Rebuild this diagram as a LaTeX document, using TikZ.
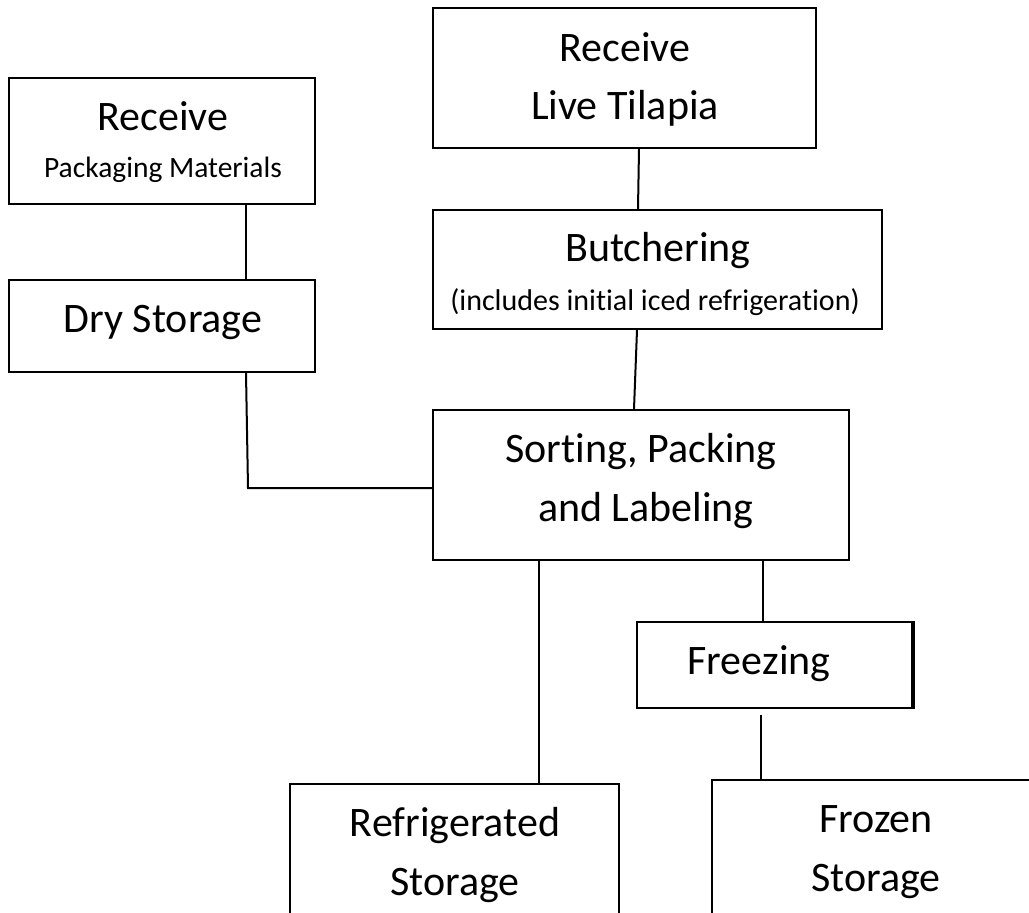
\documentclass[tikz,border=0pt]{standalone}
\usepackage{fontspec}
\setmainfont{Carlito}[Ligatures=NoCommon]
\begin{document}
\begin{tikzpicture}[x=1pt,y=-1pt,
  box/.style={draw=black, line width=2pt, rectangle, inner sep=0pt, fill=none},
  big/.style={font=\fontsize{42}{50}\selectfont, anchor=base, inner sep=0pt},
  small/.style={font=\fontsize{29.5}{34}\selectfont, anchor=base, inner sep=0pt},
  conn/.style={draw=black, line width=2pt}]
\useasboundingbox (0,0) rectangle (1029,913);
\fill[white] (0,0) rectangle (1029,913);
\clip (0,0) rectangle (1029,913);
% boxes (pixel coordinates)
\node[box, minimum width=383pt, minimum height=140pt] (tilapia) at (624.5,78) {};
\node[box, minimum width=306pt, minimum height=126pt] (pack) at (162,141) {};
\node[box, minimum width=449pt, minimum height=119pt] (butch) at (657.5,269.5) {};
\node[box, minimum width=306pt, minimum height=92pt] (dry) at (162,326) {};
\node[box, minimum width=416pt, minimum height=150pt] (sort) at (641,485) {};
\node[box, minimum width=275pt, minimum height=86pt] (freeze) at (774.5,665) {};
\node[box, minimum width=329pt, minimum height=230pt] (refrig) at (454.5,899) {};
\node[box, minimum width=330pt, minimum height=230pt] (frozen) at (877,895) {};
\draw[line width=4pt] (freeze.north east) -- (freeze.south east);
% texts
\node[big] (t1) at (625,61) {Receive};
\node[big] (t2) at (625,119) {Live Tilapia};
\node[big] (p1) at (163,130) {Receive};
\node[small] (p2) at (163,177) {Packaging Materials};
\node[big] (b1) at (658,261) {Butchering};
\node[small, font=\fontsize{30}{34}\selectfont] (b2) at (655,310) {(includes initial iced refrigeration)};
\node[big] (d1) at (163,332) {Dry Storage};
\node[big] (s1) at (641,462) {Sorting, Packing};
\node[big] (s2) at (646,521) {and Labeling};
\node[big] (f1) at (759,674) {Freezing};
\node[big] (r1) at (455,836) {Refrigerated};
\node[big] (r2) at (455,895) {Storage};
\node[big] (z1) at (876,832) {Frozen};
\node[big] (z2) at (876,891) {Storage};
% connectors
\draw[conn] (tilapia.south -| 639,0) -- (butch.north -| 638,0);
\draw[conn] (pack.south -| 246,0) -- (dry.north -| 246,0);
\draw[conn] (butch.south -| 637,0) -- (sort.north -| 634,0);
\draw[conn] (dry.south -| 246,0) -- (248,488) -- (sort.west |- 0,488);
\draw[conn] (sort.south -| 539,0) -- (refrig.north -| 539,0);
\draw[conn] (sort.south -| 763,0) -- (freeze.north -| 763,0);
\draw[conn, shorten <=6pt] (freeze.south -| 761,0) -- (frozen.north -| 761,0);
\end{tikzpicture}
\end{document}
